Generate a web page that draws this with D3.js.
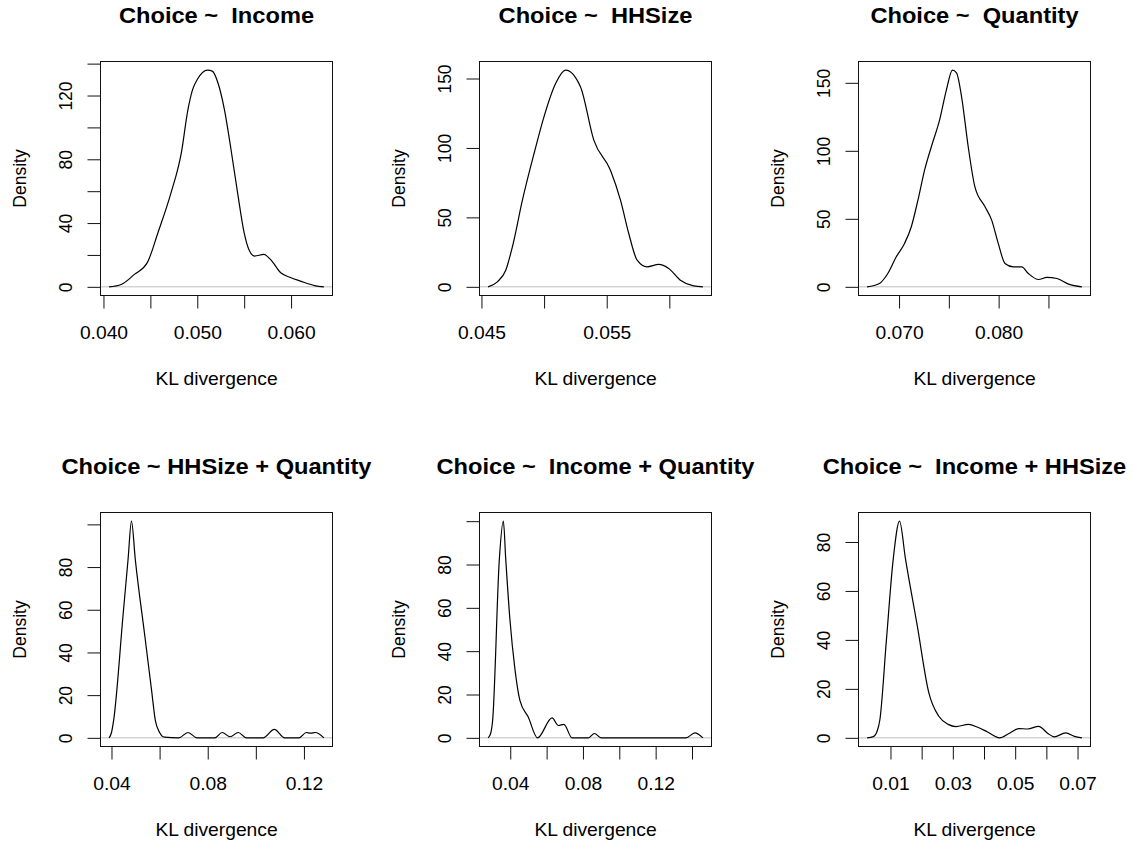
<!DOCTYPE html>
<html>
<head>
<meta charset="utf-8">
<script src="https://cdn.jsdelivr.net/npm/d3@7"></script>
<style>
  body { margin: 0; background: #fff; }
  svg text { font-family: "Liberation Sans", Arial, Helvetica, sans-serif; fill: #000; }
</style>
</head>
<body>
<svg id="chart" width="1134" height="846"></svg>
<script>
// panel titles (R formula labels, double space kept as in the original)
const titles = [
  "Choice ~  Income",
  "Choice ~  HHSize",
  "Choice ~  Quantity",
  "Choice ~ HHSize + Quantity",
  "Choice ~  Income + Quantity",
  "Choice ~  Income + HHSize"
];

// density curves
const incomeKL = [0.0406, 0.0419, 0.0433, 0.0447, 0.0458, 0.0472, 0.0483, 0.0490, 0.0495, 0.0500, 0.0511, 0.0516, 0.0522, 0.0529, 0.0536, 0.0543, 0.0550, 0.0555, 0.0561, 0.0571, 0.0578, 0.0589, 0.0600, 0.0610, 0.0625, 0.0635];
const incomeDensity = [0, 1.5, 7.8, 15.5, 33.8, 58.9, 84, 111, 123.7, 130, 135.9, 135.3, 128, 111, 86, 58.9, 33.8, 23.4, 19.3, 20.3, 17.2, 8.8, 5.7, 3.6, 0.8, 0];

const hhsizeKL = [0.04553, 0.04627, 0.04694, 0.04747, 0.04827, 0.0492, 0.04999, 0.05092, 0.05172, 0.05291, 0.05397, 0.0553, 0.0561, 0.05676, 0.05743, 0.05822, 0.05915, 0.05995, 0.06088, 0.06194, 0.06268];
const hhsizeDensity = [0, 3.6, 12, 28.8, 62.4, 96, 122.4, 146.4, 156, 143.9, 105.6, 84, 62.4, 38.4, 19.2, 14.4, 16.1, 13.2, 4.8, 0.7, 0];

const quantityKL = [0.06679, 0.06803, 0.06887, 0.06972, 0.07055, 0.07123, 0.0719, 0.07257, 0.07325, 0.07408, 0.07476, 0.07536, 0.07577, 0.07627, 0.07694, 0.07761, 0.07862, 0.07929, 0.07996, 0.08064, 0.08147, 0.08232, 0.08298, 0.0840, 0.08484, 0.08585, 0.08702, 0.08836];
const quantityDensity = [0, 2.5, 9.8, 22.1, 31.9, 44.2, 63.9, 86, 103.2, 122.9, 145, 159.3, 157.3, 140.1, 103.2, 73.7, 59, 49.2, 31.9, 17.2, 14.7, 14.7, 9.8, 5.4, 6.9, 6.1, 2, 0];

const hhQtyKL = [0.0390, 0.0400, 0.0409, 0.0448, 0.0469, 0.0483, 0.0499, 0.0540, 0.0567, 0.0582, 0.0600, 0.0620, 0.0680, 0.0718, 0.0755, 0.0830, 0.0860, 0.0893, 0.0927, 0.0960, 0.1030, 0.1077, 0.1120, 0.1180, 0.1210, 0.1228, 0.1247, 0.1283];
const hhQtyDensity = [0, 2.5, 8.3, 57.4, 83.8, 101.5, 83.5, 46.4, 21.9, 8.3, 2.5, 0.3, 0, 2.5, 0, 0, 2.5, 0.5, 2.5, 0, 0, 4, 0, 0, 2.5, 2.2, 2.5, 0];

const incQtyKL = [0.0278, 0.0292, 0.0303, 0.0340, 0.0362, 0.0375, 0.0398, 0.0426, 0.0453, 0.0499, 0.0550, 0.0630, 0.0665, 0.0695, 0.0740, 0.0830, 0.0863, 0.0900, 0.1367, 0.1416, 0.1460];
const incQtyDensity = [0, 2, 8, 82.6, 100, 82.6, 54.7, 31.5, 17.3, 9.6, 0, 9.2, 5.7, 6.2, 0, 0, 2, 0, 0, 2.3, 0];

const incHhKL = [0.0025, 0.0045, 0.0058, 0.0066, 0.0087, 0.0109, 0.0129, 0.0148, 0.0186, 0.0223, 0.0255, 0.0285, 0.0310, 0.0350, 0.0380, 0.0410, 0.0450, 0.0480, 0.0512, 0.0540, 0.0575, 0.0605, 0.0625, 0.0662, 0.0690, 0.0714];
const incHhDensity = [0, 0.5, 3, 7.4, 40, 73.2, 88.5, 73.2, 45.7, 18.4, 8.8, 5.5, 4.6, 5.5, 4.3, 2.5, 0, 1.8, 3.8, 3.6, 4.7, 1.8, 0.4, 2, 0.6, 0];

// axis ticks and their labels (R drops some labels, empty string = tick only)
const xTicks = [
  [0.040, 0.045, 0.050, 0.055, 0.060],
  [0.045, 0.050, 0.055, 0.060],
  [0.070, 0.075, 0.080, 0.085],
  [0.04, 0.06, 0.08, 0.10, 0.12],
  [0.04, 0.06, 0.08, 0.10, 0.12, 0.14],
  [0.01, 0.02, 0.03, 0.04, 0.05, 0.06, 0.07]
];
const xLabels = [
  ["0.040", "", "0.050", "", "0.060"],
  ["0.045", "", "0.055", ""],
  ["0.070", "", "0.080", ""],
  ["0.04", "", "0.08", "", "0.12"],
  ["0.04", "", "0.08", "", "0.12", ""],
  ["0.01", "", "0.03", "", "0.05", "", "0.07"]
];
const yTicks = [
  [0, 20, 40, 60, 80, 100, 120, 140],
  [0, 50, 100, 150],
  [0, 50, 100, 150],
  [0, 20, 40, 60, 80, 100],
  [0, 20, 40, 60, 80, 100],
  [0, 20, 40, 60, 80]
];
const yLabels = [
  ["0", "", "40", "", "80", "", "120", ""],
  ["0", "50", "100", "150"],
  ["0", "50", "100", "150"],
  ["0", "20", "40", "60", "80", ""],
  ["0", "20", "40", "60", "80", ""],
  ["0", "20", "40", "60", "80"]
];

const series = [
  [incomeKL, incomeDensity],
  [hhsizeKL, hhsizeDensity],
  [quantityKL, quantityDensity],
  [hhQtyKL, hhQtyDensity],
  [incQtyKL, incQtyDensity],
  [incHhKL, incHhDensity]
];

const colLeft = [100.5, 479.5, 858.5];
const rowTop = [61.5, 512.5];
const W = 232, H = 234;
const stretch = "scale(1.1,1)"; // text in the picture is a little wider than tall

const svg = d3.select("#chart");
svg.append("rect").attr("width", 1134).attr("height", 846).attr("fill", "#fff");

series.forEach(([xs, ys], i) => {
  const g = svg.append("g")
    .attr("transform", `translate(${colLeft[i % 3]},${rowTop[Math.floor(i / 3)]})`);

  // R style: data range padded by 4% on each side
  const [x0, x1] = d3.extent(xs);
  const pad = (x1 - x0) * 0.04;
  const yMax = d3.max(ys);
  const x = d3.scaleLinear().domain([x0 - pad, x1 + pad]).range([0, W]);
  const y = d3.scaleLinear().domain([-0.04 * yMax, 1.04 * yMax]).range([H, 0]);

  // zero line
  g.append("line")
    .attr("x1", 0).attr("x2", W)
    .attr("y1", y(0)).attr("y2", y(0))
    .attr("stroke", "#bebebe");

  g.append("path")
    .datum(d3.zip(xs, ys))
    .attr("fill", "none")
    .attr("stroke", "#000")
    .attr("stroke-width", 1.2)
    .attr("d", d3.line()
      .x(d => x(d[0]))
      .y(d => y(d[1]))
      .curve(d3.curveMonotoneX));

  g.append("rect")
    .attr("width", W).attr("height", H)
    .attr("fill", "none").attr("stroke", "#111");

  const xa = g.append("g")
    .attr("transform", `translate(0,${H})`)
    .style("color", "#111")
    .call(d3.axisBottom(x).tickValues(xTicks[i]).tickSize(13)
      .tickFormat((d, k) => xLabels[i][k]));
  xa.select(".domain").remove();
  xa.selectAll("text")
    .attr("y", 43.5).attr("dy", null)
    .attr("transform", stretch)
    .style("font-size", "17.5px");

  const ya = g.append("g")
    .style("color", "#111")
    .call(d3.axisLeft(y).tickValues(yTicks[i]).tickSize(13)
      .tickFormat((d, k) => yLabels[i][k]));
  ya.select(".domain").remove();
  ya.selectAll("text")
    .attr("x", 0).attr("y", 0).attr("dy", null)
    .attr("text-anchor", "middle")
    .attr("transform", `translate(-29,0) ${stretch} rotate(-90)`)
    .style("font-size", "17.5px");

  g.append("text")
    .attr("transform", `translate(-75,${H / 2}) ${stretch} rotate(-90)`)
    .attr("text-anchor", "middle")
    .style("font-size", "17.5px")
    .text("Density");

  g.append("text")
    .attr("transform", `translate(${W / 2},${H + 89.5}) ${stretch}`)
    .attr("text-anchor", "middle")
    .style("font-size", "17.5px")
    .text("KL divergence");

  g.append("text")
    .attr("transform", `translate(${W / 2},-38.5) ${stretch}`)
    .attr("text-anchor", "middle")
    .style("font-size", "21.5px")
    .style("font-weight", "bold")
    .style("white-space", "pre")
    .text(titles[i]);
});
</script>
</body>
</html>
